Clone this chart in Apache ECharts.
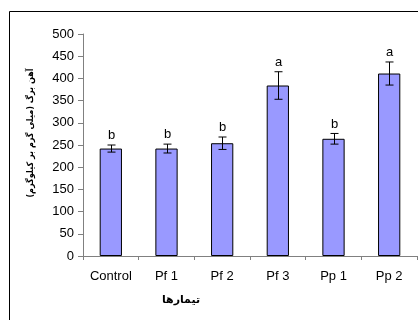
<!DOCTYPE html>
<html>
<head>
<meta charset="utf-8">
<script src="https://cdn.jsdelivr.net/npm/echarts@6/dist/echarts.min.js"></script>
<style>
  html, body { margin: 0; padding: 0; background: #fff; }
  #chart { width: 418px; height: 320px; }
</style>
</head>
<body>
<div id="chart"></div>
<script>
// Leaf iron by treatment: means, standard errors and significance groups
const categories = ['Control', 'Pf 1', 'Pf 2', 'Pf 3', 'Pp 1', 'Pp 2'];
const ironMeans = [242, 242, 254, 384, 264, 411];
const ironErrors = [8, 10, 14, 31, 12, 26];
const groupLetters = ['b', 'b', 'b', 'a', 'b', 'a'];
const yTickValues = [0, 50, 100, 150, 200, 250, 300, 350, 400, 450, 500];

const yTitle = 'آهن برگ (میلی گرم بر کیلوگرم)';
const xTitle = 'تیمارها';

const chart = echarts.init(document.getElementById('chart'), null, { renderer: 'canvas' });

const errorData = categories.map((c, i) => [i, ironMeans[i], ironErrors[i], groupLetters[i]]);

function renderErrorBar(params, api) {
  const idx = api.value(0);
  const mean = api.value(1);
  const err = api.value(2);
  const top = api.coord([idx, mean + err]);
  const bottom = api.coord([idx, mean - err]);
  const x = Math.round(top[0]) + 0.5;
  const half = 4;
  const lineStyle = { stroke: '#000', lineWidth: 1 };
  return {
    type: 'group',
    children: [
      { type: 'line', shape: { x1: x, y1: top[1], x2: x, y2: bottom[1] }, style: lineStyle },
      { type: 'line', shape: { x1: x - half, y1: top[1], x2: x + half, y2: top[1] }, style: lineStyle },
      { type: 'line', shape: { x1: x - half, y1: bottom[1], x2: x + half, y2: bottom[1] }, style: lineStyle },
      {
        type: 'text',
        style: {
          text: groupLetters[idx],
          x: x,
          y: top[1] - 3,
          textAlign: 'center',
          textVerticalAlign: 'bottom',
          font: '13px "Liberation Sans", Arial, sans-serif',
          fill: '#000'
        }
      }
    ]
  };
}

const axisFont = '"Liberation Sans", Arial, sans-serif';

chart.setOption({
  animation: false,
  backgroundColor: '#fff',
  grid: { left: 83, right: 1, top: 34, bottom: 64, containLabel: false },
  xAxis: {
    type: 'category',
    data: categories,
    boundaryGap: true,
    axisLine: { lineStyle: { color: '#808080', width: 1 } },
    axisTick: { show: true, length: 4, inside: false, alignWithLabel: false, lineStyle: { color: '#808080' } },
    axisLabel: { color: '#000', fontSize: 13, fontFamily: axisFont, margin: 14 },
    splitLine: { show: false }
  },
  yAxis: {
    type: 'value',
    min: 0,
    max: 500,
    interval: 50,
    axisLine: { show: true, lineStyle: { color: '#808080', width: 1 } },
    axisTick: { show: true, length: 5, lineStyle: { color: '#808080' } },
    axisLabel: {
      color: '#000', fontSize: 13, fontFamily: axisFont, margin: 9,
      formatter: v => (yTickValues.indexOf(v) >= 0 ? String(v) : '')
    },
    splitLine: { show: false }
  },
  series: [
    {
      type: 'bar',
      data: ironMeans,
      barWidth: '40%',
      itemStyle: { color: '#9999FF', borderColor: '#000', borderWidth: 1 }
    },
    {
      type: 'custom',
      renderItem: renderErrorBar,
      data: errorData,
      encode: { x: 0, y: 1 },
      z: 5
    }
  ],
  graphic: [
    {
      type: 'rect',
      shape: { x: 9.5, y: 11.5, width: 430, height: 330 },
      style: { fill: 'none', stroke: '#000', lineWidth: 1 },
      silent: true
    },
    {
      type: 'text',
      x: 31,
      y: 133,
      rotation: Math.PI / 2,
      style: {
        text: yTitle,
        textAlign: 'center',
        textVerticalAlign: 'middle',
        font: 'bold 9px "DejaVu Sans Condensed", "DejaVu Sans", sans-serif',
        fill: '#000'
      }
    },
    {
      type: 'text',
      x: 181,
      y: 300,
      style: {
        text: xTitle,
        textAlign: 'center',
        textVerticalAlign: 'middle',
        font: 'bold 11px "DejaVu Sans", sans-serif',
        fill: '#000'
      }
    }
  ]
});
</script>
</body>
</html>
